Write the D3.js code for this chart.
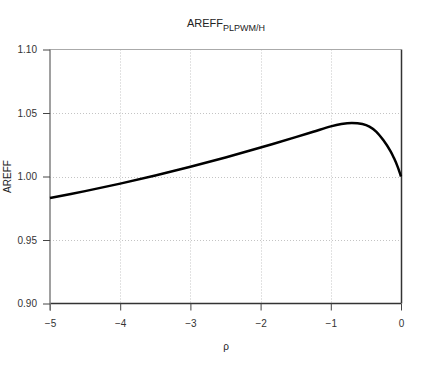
<!DOCTYPE html>
<html>
<head>
<meta charset="utf-8">
<script src="https://cdn.jsdelivr.net/npm/d3@7"></script>
<style>
  body { margin: 0; background: #fff; }
  svg text { font-family: "Liberation Sans", Arial, sans-serif; }
</style>
</head>
<body>
<svg id="chart" width="427" height="366"></svg>
<script>
// values
var rho   = [-5, -4.5, -4, -3.5, -3, -2.5, -2, -1.5, -1.25, -1, -0.85, -0.7, -0.55, -0.45, -0.35, -0.25, -0.15, -0.1, -0.05, 0];
var areff = [0.983, 0.9885, 0.9944, 1.0008, 1.0077, 1.0150, 1.0228, 1.0310, 1.0352, 1.0395, 1.0413, 1.0421, 1.0413, 1.0393, 1.0352, 1.0285, 1.0200, 1.0145, 1.0080, 1.000];
var xTicks = [-5, -4, -3, -2, -1, 0];
var yTicks = [0.90, 0.95, 1.00, 1.05, 1.10];

var svg = d3.select("#chart");
var L = 50, R = 401, T = 49.5, B = 303.5;

var x = d3.scaleLinear().domain([-5, 0]).range([L, R]);
var y = d3.scaleLinear().domain([0.90, 1.10]).range([B, T]);

//dotted grid (interior only)
svg.append("g").selectAll("line.gx")
    .data(xTicks.filter(function(d){ return d > -5 && d < 0; }))
    .enter().append("line")
    .attr("x1", function(d){ return Math.round(x(d)) + 0.5; })
    .attr("x2", function(d){ return Math.round(x(d)) + 0.5; })
    .attr("y1", T).attr("y2", B)
    .attr("stroke", "#c4c4c4").attr("stroke-dasharray", "1,2");

svg.append("g").selectAll("line.gy")
    .data(yTicks.filter(function(d){ return d > 0.9 && d < 1.1; }))
    .enter().append("line")
    .attr("x1", L).attr("x2", R)
    .attr("y1", function(d){ return Math.round(y(d)) + 0.5; })
    .attr("y2", function(d){ return Math.round(y(d)) + 0.5; })
    .attr("stroke", "#c4c4c4").attr("stroke-dasharray", "1,2");

// top & right frame lines
svg.append("line").attr("x1", L).attr("x2", R).attr("y1", T).attr("y2", T)
    .attr("stroke", "#aaaaaa");
svg.append("line").attr("x1", R + 0.5).attr("x2", R + 0.5).attr("y1", T).attr("y2", B)
    .attr("stroke", "#333333").attr("stroke-width", 1.5);

// x axis
var xAxis = svg.append("g")
    .attr("transform", "translate(0," + B + ")")
    .call(d3.axisBottom(x).tickValues(xTicks).tickSize(7).tickPadding(9)
          .tickFormat(function(d){ return d < 0 ? "\u2212" + Math.abs(d) : d; }));
xAxis.select(".domain").attr("stroke", "#333333").attr("stroke-width", 1.5)
    .attr("d", "M" + L + ",0H" + R);
xAxis.selectAll(".tick line").attr("stroke", "#444444");
xAxis.selectAll(".tick text").attr("fill", "#333").style("font-size", "10px");

// y axis
var yAxis = svg.append("g")
    .attr("transform", "translate(" + L + ",0)")
    .call(d3.axisLeft(y).tickValues(yTicks).tickSize(7).tickPadding(6)
          .tickFormat(d3.format(".2f")));
yAxis.select(".domain").attr("stroke", "#808080").attr("stroke-width", 1.5)
    .attr("d", "M0," + T + "V" + (B + 7));
yAxis.selectAll(".tick line").attr("stroke", "#444444");
yAxis.selectAll(".tick text").attr("fill", "#333").style("font-size", "10px");

// curve
var line = d3.line()
    .x(function(d, i){ return x(rho[i]); })
    .y(function(d){ return y(d); })
    .curve(d3.curveCatmullRom.alpha(0.5));

svg.append("path")
    .datum(areff)
    .attr("d", line)
    .attr("fill", "none")
    .attr("stroke", "#000")
    .attr("stroke-width", 2.5);

// title with subscript
var title = svg.append("text")
    .attr("x", 226).attr("y", 27)
    .attr("text-anchor", "middle")
    .attr("fill", "#222")
    .style("font-size", "11px");
title.append("tspan").text("AREFF");
title.append("tspan").attr("dy", 4).style("font-size", "9px").text("PLPWM/H");

// axis labels
svg.append("text")
    .attr("x", 226).attr("y", 350)
    .attr("text-anchor", "middle")
    .attr("fill", "#222")
    .style("font-size", "10px")
    .text("\u03c1");

svg.append("text")
    .attr("transform", "translate(10.5," + ((T + B) / 2) + ") rotate(-90)")
    .attr("text-anchor", "middle")
    .attr("fill", "#222")
    .style("font-size", "10px")
    .text("AREFF");
</script>
</body>
</html>
